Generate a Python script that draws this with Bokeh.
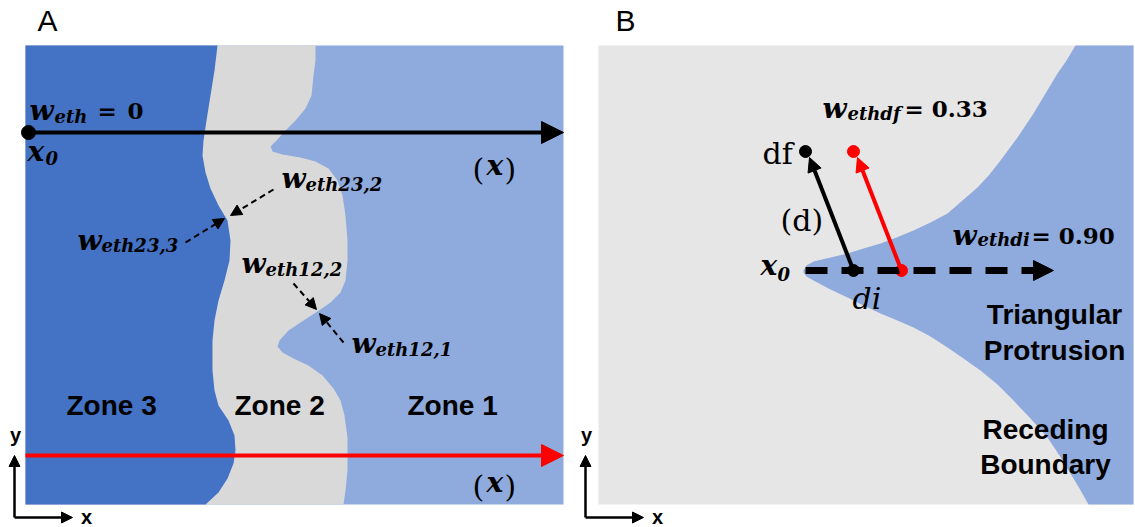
from bokeh.plotting import figure
from bokeh.models import Range1d, Arrow, NormalHead
from bokeh.core.properties import value
from bokeh.embed import file_html
from bokeh.resources import INLINE

# ---------------- data (pixel-space diagram coordinates) ----------------
panelA_x = [25, 563]
panelA_y = [45, 504]
panelB_x = [598, 1133]
panelB_y = [45, 504]

# Zone 3 / Zone 2 boundary (top -> bottom)
b23_x = [217, 214, 210, 206, 203, 202, 205, 210, 218, 227, 230, 229, 224, 218, 214, 212, 212, 214, 218, 228, 234, 235, 233, 227, 218, 205]
b23_y = [45, 70, 95, 120, 140, 155, 172, 188, 205, 220, 240, 260, 280, 300, 320, 340, 370, 390, 405, 420, 435, 450, 463, 478, 492, 504]

# Zone 2 / Zone 1 boundary (top -> bottom)
b12_x = [315, 315, 313, 311, 305, 295, 285, 276, 270, 272, 282, 300, 315, 328, 337, 342, 345, 347, 347, 345, 340, 330, 317, 303, 288, 279, 277, 282, 293, 308, 322, 333, 340, 344, 347, 347, 345, 343]
b12_y = [45, 60, 75, 95, 108, 120, 130, 140, 146, 151, 154, 157, 161, 168, 180, 195, 215, 240, 260, 280, 292, 302, 311, 320, 330, 340, 346, 352, 358, 365, 375, 388, 400, 415, 437, 470, 490, 504]

# Panel B receding boundary: upper edge (top -> tip), lower edge (tip -> bottom)
bu_x = [1075, 1066, 1057, 1045, 1033, 1017, 1000, 989, 977, 962, 947, 930, 913, 896, 880, 863, 847, 830, 813, 806, 803]
bu_y = [45, 60, 73, 93, 113, 137, 160, 174, 187, 200, 213, 222, 230, 237, 243, 248, 253, 257, 261, 265, 270]
bl_x = [803, 806, 813, 830, 847, 863, 880, 897, 913, 930, 947, 963, 980, 997, 1013, 1030, 1047, 1059, 1070, 1079, 1088]
bl_y = [272, 276, 280, 289, 297, 305, 313, 320, 327, 336, 347, 358, 370, 384, 400, 418, 437, 455, 473, 488, 504]

zone_labels = ["Zone 3", "Zone 2", "Zone 1"]
zone_label_x = [66, 234, 407]
zone_label_y = [405, 405, 405]

b_labels = ["Triangular", "Protrusion", "Receding", "Boundary"]
b_label_x = [1054, 1054, 1045, 1045]
b_label_y = [314, 350, 429, 464]

# colours
DARK = "#4472C4"
LIGHT = "#8FAADC"
GRAY_A = "#D9D9D9"
GRAY_B = "#E7E6E6"
RED = "#FF0000"

SERIF = value("DejaVu Serif")
SANS = value("Liberation Sans")

p = figure(width=1135, height=527, x_range=Range1d(0, 1135), y_range=Range1d(527, 0),
           output_backend="svg", toolbar_location=None, min_border=0,
           x_axis_location=None, y_axis_location=None)
p.grid.visible = False
p.outline_line_color = None
p.background_fill_color = "white"
p.border_fill_color = "white"

# ---------------- Panel A ----------------
ax0, ax1 = panelA_x
ay0, ay1 = panelA_y
p.patch([ax0, ax1, ax1, ax0], [ay0, ay0, ay1, ay1], fill_color=LIGHT, line_color=None)
p.patch([ax0] + b12_x + [ax0], [ay0] + b12_y + [ay1], fill_color=GRAY_A, line_color=None)
p.patch([ax0] + b23_x + [ax0], [ay0] + b23_y + [ay1], fill_color=DARK, line_color=None)

# ---------------- Panel B ----------------
bx0, bx1 = panelB_x
by0, by1 = panelB_y
p.patch([bx0, bx1, bx1, bx0], [by0, by0, by1, by1], fill_color=GRAY_B, line_color=None)
p.patch(bu_x + bl_x + [bx1, bx1], bu_y + bl_y + [by1, by0], fill_color=LIGHT, line_color=None)

def arrow(x0, y0, x1, y1, color, width, size, dash="solid"):
    p.add_layout(Arrow(x_start=x0, y_start=y0, x_end=x1, y_end=y1,
                       line_color=color, line_width=width, line_dash=dash,
                       end=NormalHead(size=size, fill_color=color, line_color=color, line_width=1)))

# ---------------- arrows panel A ----------------
arrow(28, 132, 563, 132, "black", 4, 22)
arrow(25, 455, 563, 455, RED, 4, 22)
p.scatter([28], [132], size=14, color="black")

arrow(273, 189, 230, 215, "black", 2, 11, "6 4")
arrow(185, 242, 224, 218, "black", 2, 11, "6 4")
arrow(293, 283, 316, 309, "black", 2, 11, "6 4")
arrow(343, 342, 319, 313, "black", 2, 11, "6 4")

# ---------------- arrows panel B ----------------
arrow(805, 270, 1053, 270, "black", 7, 20, "22 14")
arrow(853, 270, 809, 157, "black", 4, 14)
arrow(901, 270, 857, 157, RED, 4, 14)
p.scatter([853, 805], [270, 151], size=12, color="black")
p.scatter([901, 853], [270, 151], size=12, color=RED)

# axis indicators
for off in (0, 571):
    arrow(14 + off, 517, 14 + off, 455, "black", 2.5, 11)
    arrow(14 + off, 517, 72 + off, 517, "black", 2.5, 11)
p.text([15, 586], [434, 434], text=["y", "y"], text_font=SANS, text_font_style="bold",
       text_font_size=value("20px"), text_align="center", text_baseline="middle")
p.text([86, 657], [516, 516], text=["x", "x"], text_font=SANS, text_font_style="bold",
       text_font_size=value("20px"), text_align="center", text_baseline="middle")

# ---------------- texts ----------------
p.text([37, 615], [20, 20], text=["A", "B"], text_font=SANS, text_font_size=value("30px"),
       text_baseline="alphabetic", text_align="left")
p.text(zone_label_x, zone_label_y, text=zone_labels, text_font=SANS, text_font_style="bold",
       text_font_size=value("28px"), text_baseline="alphabetic", text_align="left")
p.text(b_label_x, b_label_y, text=b_labels, text_font=SANS, text_font_style="bold",
       text_font_size=value("28px"), text_baseline="alphabetic", text_align="center")

# math: main italic letters
main_t = ["w", "w", "w", "w", "w", "w", "w", "x", "x", "x", "x"]
main_x = [29, 281, 77, 241, 351, 822, 952, 27, 486, 486, 760]
main_y = [110, 178, 240, 263, 343, 108, 235, 151, 165, 482, 265]
p.text(main_x, main_y, text=main_t, text_font=SERIF, text_font_style="bold italic",
       text_font_size=value("28px"), text_baseline="alphabetic", text_align="left")

sub_t = ["eth", "eth23,2", "eth23,3", "eth12,2", "eth12,1", "ethdf", "ethdi", "0", "0"]
sub_x = [54, 305, 101, 265, 375, 847, 977, 45, 777]
sub_y = [116, 184, 245, 269, 349, 113, 239, 157, 273]
p.text(sub_x, sub_y, text=sub_t, text_font=SERIF, text_font_style="bold italic",
       text_font_size=value("18px"), text_baseline="alphabetic", text_align="left")

eq_t = ["=", "0", "= 0.33", "= 0.90"]
eq_x = [97, 127, 904, 1031]
eq_y = [110, 110, 108, 235]
p.text(eq_x, eq_y, text=eq_t, text_font=SERIF, text_font_style="bold",
       text_font_size=value("23px"), text_baseline="alphabetic", text_align="left")

par_t = ["(", ")", "(", ")", "(d)", "df"]
par_x = [472, 504, 472, 504, 780, 762]
par_y = [169, 169, 486, 486, 220, 153]
p.text(par_x, par_y, text=par_t, text_font=SERIF,
       text_font_size=value("30px"), text_baseline="alphabetic", text_align="left")

p.text([852], [298], text=["di"], text_font=SERIF, text_font_style="italic",
       text_font_size=value("30px"), text_baseline="alphabetic", text_align="left")

open("out.html", "w").write(file_html(p, INLINE))
